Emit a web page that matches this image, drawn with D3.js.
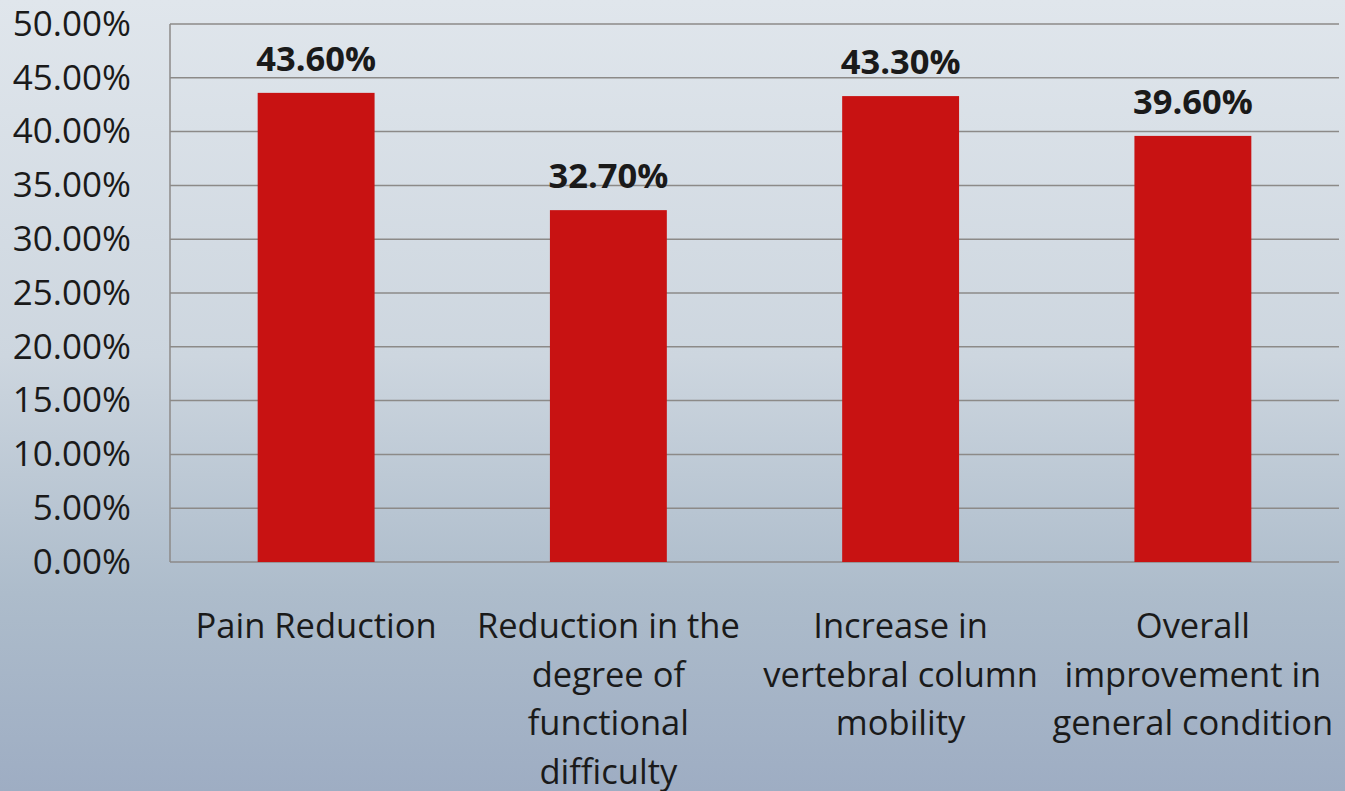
<!DOCTYPE html>
<html><head><meta charset="utf-8">
<script src="https://cdn.jsdelivr.net/npm/d3@7"></script>
<style>
html,body{margin:0;padding:0;width:1345px;height:791px;overflow:hidden;}
body{background:linear-gradient(to bottom,#e0e6ec 0%,#cdd6df 45%,#adbccb 75%,#9eadc3 100%);}
svg{display:block;font-family:"Open Sans",Lato,sans-serif;}
</style></head><body>
<svg id="c" width="1345" height="791"></svg>
<script>
const categories = ["Pain Reduction","Reduction in the degree of functional difficulty","Increase in vertebral column mobility","Overall improvement in general condition"];
const categoryLines = [["Pain Reduction"],["Reduction in the","degree of","functional","difficulty"],["Increase in","vertebral column","mobility"],["Overall","improvement in","general condition"]];
const values = [0.436,0.327,0.433,0.396];
const valueLabels = ["43.60%","32.70%","43.30%","39.60%"];
const yTicks = [0,0.05,0.10,0.15,0.20,0.25,0.30,0.35,0.40,0.45,0.50];

const svg = d3.select("#c");
const pL=170,pR=1339,pT=24,pB=562;
const x = d3.scaleBand().domain(categories).range([pL,pR]).padding(0);
const y = d3.scaleLinear().domain([0,0.5]).range([pB,pT]);

// gridlines
svg.append("g").selectAll("line").data(yTicks).join("line")
  .attr("x1",pL).attr("x2",pR).attr("y1",d=>y(d)).attr("y2",d=>y(d))
  .attr("stroke","#8c8a88").attr("stroke-width",1.5);
svg.append("line").attr("x1",pL).attr("x2",pL).attr("y1",pT).attr("y2",pB)
  .attr("stroke","#8c8a88").attr("stroke-width",1.5);

// y labels
const yAxis = d3.axisLeft(y).tickValues(yTicks).tickSize(0).tickPadding(0)
  .tickFormat(d=>(d*100).toFixed(2)+"%");
const ga = svg.append("g").attr("transform",`translate(${131},0)`).call(yAxis);
ga.select(".domain").remove();
ga.selectAll("text").attr("font-size",35).attr("fill","#1a1a1a").attr("font-family","'Open Sans',sans-serif");

// bars
const bw = x.bandwidth()*0.4;
svg.append("g").selectAll("rect").data(values).join("rect")
  .attr("x",(d,i)=>x(categories[i])+x.bandwidth()/2-bw/2)
  .attr("width",bw).attr("y",d=>y(d)).attr("height",d=>y(0)-y(d))
  .attr("fill","#c81212");

// value labels
svg.append("g").selectAll("text").data(values).join("text")
  .attr("x",(d,i)=>x(categories[i])+x.bandwidth()/2)
  .attr("y",d=>y(d)-22)
  .attr("text-anchor","middle").attr("font-weight","bold").attr("font-size",34.5)
  .attr("fill","#1a1a1a").text((d,i)=>valueLabels[i]);

// category labels
const cg = svg.append("g");
categoryLines.forEach((lines,i)=>{
  const t = cg.append("text").attr("text-anchor","middle").attr("font-size",34.5).attr("fill","#1a1a1a");
  lines.forEach((ln,j)=>{
    t.append("tspan").attr("x",x(categories[i])+x.bandwidth()/2).attr("y",638+j*48.5).text(ln);
  });
});
</script></body></html>
